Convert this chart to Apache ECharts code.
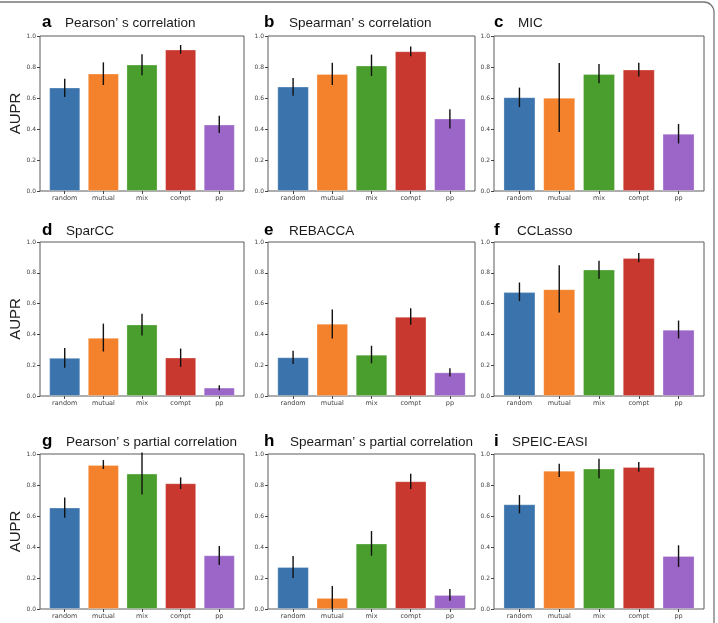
<!DOCTYPE html>
<html>
<head>
<meta charset="utf-8">
<script src="https://cdn.jsdelivr.net/npm/echarts@6/dist/echarts.min.js"></script>
<style>html,body{margin:0;padding:0;background:#fff}#c{width:718px;height:623px}</style>
</head>
<body>
<div id="c"></div>
<script>
const categories = ['random', 'mutual', 'mix', 'compt', 'pp'];
const yTicks = [0, 0.2, 0.4, 0.6, 0.8, 1.0];
const panelLetters = ['a', 'b', 'c', 'd', 'e', 'f', 'g', 'h', 'i'];
const panelTitles = ['Pearson’ s correlation', 'Spearman’ s correlation', 'MIC',
  'SparCC', 'REBACCA', 'CCLasso',
  'Pearson’ s partial correlation', 'Spearman’ s partial correlation', 'SPEIC-EASI'];
const yLabel = 'AUPR';
const barColors = ['#3b74ad', '#f4812b', '#4a9e2d', '#c8382e', '#9b66c7'];

// AUPR means and error-bar bounds per method
const pearsonMean = [0.667, 0.757, 0.815, 0.912, 0.428];
const pearsonLow = [0.606, 0.684, 0.746, 0.886, 0.374];
const pearsonHigh = [0.725, 0.830, 0.882, 0.942, 0.486];

const spearmanMean = [0.673, 0.755, 0.809, 0.901, 0.467];
const spearmanLow = [0.615, 0.684, 0.742, 0.869, 0.404];
const spearmanHigh = [0.729, 0.828, 0.880, 0.933, 0.527];

const micMean = [0.605, 0.601, 0.755, 0.783, 0.369];
const micLow = [0.541, 0.380, 0.695, 0.738, 0.307];
const micHigh = [0.667, 0.826, 0.820, 0.828, 0.433];

const sparccMean = [0.247, 0.377, 0.464, 0.249, 0.054];
const sparccLow = [0.184, 0.289, 0.393, 0.189, 0.037];
const sparccHigh = [0.312, 0.470, 0.534, 0.308, 0.069];

const rebaccaMean = [0.251, 0.469, 0.268, 0.514, 0.153];
const rebaccaLow = [0.207, 0.374, 0.212, 0.462, 0.127];
const rebaccaHigh = [0.294, 0.562, 0.326, 0.570, 0.181];

const cclassoMean = [0.674, 0.693, 0.821, 0.896, 0.430];
const cclassoLow = [0.616, 0.542, 0.762, 0.868, 0.374];
const cclassoHigh = [0.737, 0.849, 0.879, 0.929, 0.490];

const pPartialMean = [0.654, 0.929, 0.873, 0.811, 0.346];
const pPartialLow = [0.589, 0.903, 0.738, 0.774, 0.284];
const pPartialHigh = [0.720, 0.961, 1.010, 0.849, 0.406];

const sPartialMean = [0.271, 0.071, 0.422, 0.824, 0.090];
const sPartialLow = [0.200, 0.000, 0.344, 0.774, 0.054];
const sPartialHigh = [0.342, 0.148, 0.503, 0.873, 0.129];

const speicMean = [0.675, 0.892, 0.905, 0.916, 0.342];
const speicLow = [0.617, 0.852, 0.843, 0.886, 0.271];
const speicHigh = [0.735, 0.937, 0.970, 0.948, 0.411];

const panels = [
  [pearsonMean, pearsonLow, pearsonHigh],
  [spearmanMean, spearmanLow, spearmanHigh],
  [micMean, micLow, micHigh],
  [sparccMean, sparccLow, sparccHigh],
  [rebaccaMean, rebaccaLow, rebaccaHigh],
  [cclassoMean, cclassoLow, cclassoHigh],
  [pPartialMean, pPartialLow, pPartialHigh],
  [sPartialMean, sPartialLow, sPartialHigh],
  [speicMean, speicLow, speicHigh]
];

// layout (pixels)
const colLeft = [40, 268, 494];
const colWidth = [204, 207, 210];
const rowTop = [36, 242, 454];
const rowHeight = [155, 154, 155];
const letterX = [42, 264, 494];
const titleOffsetRow = [[65, 289, 518], [66, 289, 517], [66, 290, 512]];
const titleY = [22, 230, 441];

const grid = [], xAxis = [], yAxis = [], series = [], graphic = [];
const tickFont = 'DejaVu Sans';

panels.forEach((p, k) => {
  const r = Math.floor(k / 3), c = k % 3;
  const L = colLeft[c], W = colWidth[c], T = rowTop[r], H = rowHeight[r];
  const u = W / 5.28;
  // frame grid
  const fi = grid.length;
  grid.push({ left: L, top: T, width: W, height: H, show: true, borderColor: '#5a5a5a', borderWidth: 1, backgroundColor: 'transparent' });
  xAxis.push({ gridIndex: fi, type: 'value', min: 0, max: 1, show: false });
  yAxis.push({
    gridIndex: fi, type: 'value', min: 0, max: 1, interval: 0.2,
    axisLine: { show: false },
    axisTick: { show: true, length: 3, lineStyle: { color: '#444', width: 1 } },
    axisLabel: { fontSize: 6, color: '#444', fontFamily: tickFont, margin: 4, formatter: v => v.toFixed(1) },
    splitLine: { show: false }
  });
  // data grid
  const di = grid.length;
  grid.push({ left: L + 0.14 * u, top: T, width: 5 * u, height: H });
  xAxis.push({
    gridIndex: di, type: 'category', data: categories, boundaryGap: true,
    axisLine: { show: false },
    axisTick: { show: true, alignWithLabel: true, length: 3, lineStyle: { color: '#444' } },
    axisLabel: { fontSize: 6.5, color: '#444', fontFamily: tickFont, margin: 4, interval: 0 }
  });
  yAxis.push({ gridIndex: di, type: 'value', min: 0, max: 1, show: false });
  series.push({
    type: 'bar', xAxisIndex: di, yAxisIndex: di, barWidth: '80%',
    data: p[0].map((v, i) => ({ value: v, itemStyle: { color: barColors[i] } })),
    itemStyle: { borderColor: 'rgba(255,255,255,0.35)', borderWidth: 0.8 },
    silent: true
  });
  series.push({
    type: 'custom', xAxisIndex: di, yAxisIndex: di, clip: false, silent: true, z: 5,
    data: p[1].map((lo, i) => [i, lo, p[2][i]]),
    renderItem: (params, api) => {
      const a = api.coord([api.value(0), api.value(1)]);
      const b = api.coord([api.value(0), api.value(2)]);
      return { type: 'line', shape: { x1: a[0], y1: a[1], x2: b[0], y2: b[1] }, style: { stroke: '#111', lineWidth: 1.4 } };
    }
  });
  graphic.push({ type: 'text', x: letterX[c], y: titleY[r], style: { text: panelLetters[k], font: 'bold 17px "Liberation Sans"', fill: '#000', verticalAlign: 'middle', align: 'left' } });
  graphic.push({ type: 'text', x: titleOffsetRow[r][c], y: titleY[r] + 1, style: { text: panelTitles[k], font: '13.5px "Liberation Sans"', fill: '#1a1a1a', verticalAlign: 'middle', align: 'left' } });
  if (c === 0) {
    graphic.push({ type: 'text', x: 16, y: T + H / 2, rotation: Math.PI / 2, style: { text: yLabel, font: '15px "Liberation Sans"', fill: '#222', verticalAlign: 'middle', align: 'center' } });
  }
});

graphic.push({ type: 'rect', shape: { x: -20, y: 2, width: 734, height: 700, r: 10 }, style: { fill: 'none', stroke: '#777', lineWidth: 1.3 }, silent: true });

const chart = echarts.init(document.getElementById('c'), null, { renderer: 'canvas' });
chart.setOption({ animation: false, backgroundColor: '#fff', grid, xAxis, yAxis, series, graphic });
</script>
</body>
</html>
